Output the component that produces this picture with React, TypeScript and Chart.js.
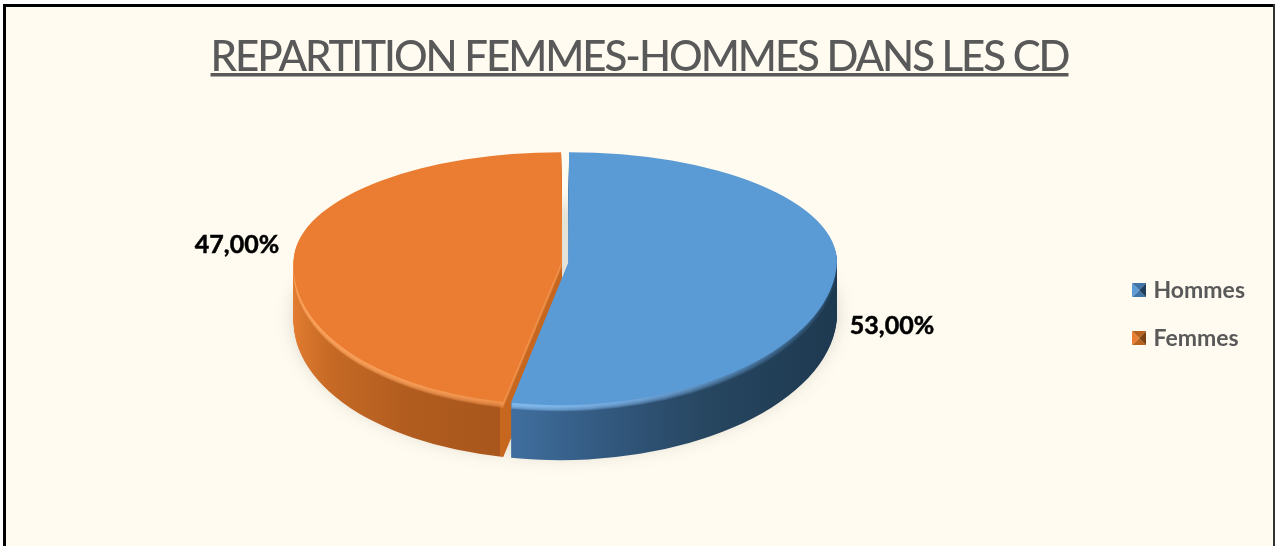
import React, { useEffect, useRef } from "react";
import { Chart, registerables } from "chart.js";

Chart.register(...registerables);

const categories = ["Hommes", "Femmes"];
const shares = [53, 47];
const topColors = ["#5B9BD5", "#EB7D32"];
const chartTitle = "REPARTITION FEMMES-HOMMES DANS LES CD";
const TEXT_GREY = "#595959";
const CREAM = "#FFFBF0";
const TITLE_FONT = { family: "Lato", size: 42, weight: "500" as const };
const TITLE_SPACING = "-2.05px";

const PIE_CX = 565;
const DEPTH = 55;
const APEX_Y = 262;
const RY_UP = 110;
const RY_DOWN = 143;
const SHEAR = -0.055;

const wallStops = [
  [[0, "#3F6E9E"], [0.3, "#32587E"], [0.6, "#274660"], [1, "#1D3950"]],
  [[0, "#E57E32"], [0.2, "#C66A25"], [0.55, "#B25D1F"], [1, "#A8561C"]],
];
const rimStops = [
  [[0, "rgba(135,190,240,0.4)"], [0.4, "rgba(125,180,235,0.25)"], [1, "rgba(90,150,210,0.03)"]],
  [[0, "rgba(252,165,95,0.45)"], [0.6, "rgba(250,160,90,0.35)"], [1, "rgba(248,155,85,0.3)"]],
];
const faceColor = "#C7661F";
const labelOffsets = [
  { dx: 327, dy: 64 },
  { dx: -328, dy: -17 },
];

function drawnRadius(arc: any) {
  return arc.outerRadius + (arc.options.offset || 0) / 4;
}

function warped(ctx: any, arc: any, dy: number, fill: any) {
  const clone = Object.create(arc);
  clone.options = { ...arc.options, backgroundColor: fill, borderWidth: 0 };
  const split = APEX_Y + dy;
  const r = drawnRadius(arc);
  [
    { y0: -100, y1: split, k: RY_UP / r, s: 0 },
    { y0: split, y1: 700, k: RY_DOWN / r, s: SHEAR },
  ].forEach(({ y0, y1, k, s }) => {
    ctx.save();
    ctx.beginPath();
    ctx.rect(0, y0, 1275, y1 - y0);
    ctx.clip();
    ctx.translate(PIE_CX - arc.x, split);
    ctx.transform(1, 0, s, 1, 0, 0);
    ctx.scale(1, k);
    ctx.translate(0, -arc.y);
    clone.draw(ctx);
    ctx.restore();
  });
}

function gradient(ctx: any, x0: number, x1: number, stops: any[]) {
  const g = ctx.createLinearGradient(x0, 0, x1, 0);
  stops.forEach(([p, c]) => g.addColorStop(p, c));
  return g;
}

function titleLetterSpacing(chart: any) {
  const box = chart.titleBlock;
  if (!box || box.__spaced) return;
  const original = box.draw;
  box.__spaced = true;
  box.draw = function (...args: any[]) {
    const c = chart.ctx;
    c.save();
    c.letterSpacing = TITLE_SPACING;
    original.apply(box, args);
    c.restore();
  };
}

const piePlugin = {
  id: "pie3d",
  beforeDraw(chart: any) {
    titleLetterSpacing(chart);
    const { ctx, width, height } = chart;
    ctx.save();
    ctx.fillStyle = "#FFFFFF";
    ctx.fillRect(0, 0, width, height);
    ctx.fillStyle = "#000000";
    ctx.fillRect(3, 4, width, height);
    ctx.fillStyle = "#333333";
    ctx.fillRect(width - 2, 4, 2, height);
    ctx.fillStyle = CREAM;
    ctx.fillRect(6, 7, width - 8, height);
    ctx.restore();
  },
  beforeDatasetsDraw(chart: any) {
    const { ctx } = chart;
    const arcs = chart.getDatasetMeta(0).data;
    ctx.save();
    ctx.filter = "blur(9px)";
    arcs.forEach((a: any) => warped(ctx, a, DEPTH - 4, "rgba(60,60,50,0.2)"));
    ctx.restore();

    [1, 0].forEach((i) => {
      const a = arcs[i];
      const r = drawnRadius(a);
      const shift = (Math.cos((a.startAngle + a.endAngle) / 2) * (a.options.offset || 0)) / 4;
      const left = a.x + shift - r;
      const right = a.x + shift + r;
      if (i === 1) {
        const corner = a.x + shift + r * Math.cos(a.startAngle);
        const t = (corner - left) / (right - left);
        const scaled = wallStops[1].map(([p, c]: any) => [p * t, c]);
        const wall = gradient(ctx, left, right, [...scaled, [t, faceColor], [1, faceColor]]);
        for (let d = DEPTH; d > 0; d--) warped(ctx, a, d, wall);
        const rim = gradient(ctx, left, corner, rimStops[1]);
        for (let d = 6; d > 0; d--) warped(ctx, a, d, rim);
      } else {
        const corner = a.x + shift + r * Math.cos(a.endAngle);
        const wall = gradient(ctx, corner, right, wallStops[0]);
        for (let d = DEPTH; d > 0; d--) warped(ctx, a, d, wall);
        const rim = gradient(ctx, corner, right, rimStops[0]);
        for (let d = 6; d > 0; d--) warped(ctx, a, d, rim);
      }
      warped(ctx, a, 0, a.options.backgroundColor);
    });
    return false;
  },
  afterDraw(chart: any) {
    const { ctx } = chart;
    const arcs = chart.getDatasetMeta(0).data;
    ctx.save();
    ctx.font = "700 25px Lato";
    ctx.fillStyle = "#000000";
    ctx.strokeStyle = "#000000";
    ctx.lineWidth = 0.5;
    ctx.textAlign = "center";
    ctx.textBaseline = "middle";
    arcs.forEach((_: any, i: number) => {
      const text = shares[i].toFixed(2).replace(".", ",") + "%";
      ctx.fillText(text, PIE_CX + labelOffsets[i].dx, APEX_Y + labelOffsets[i].dy);
      ctx.strokeText(text, PIE_CX + labelOffsets[i].dx, APEX_Y + labelOffsets[i].dy);
    });
    ctx.font = `${TITLE_FONT.weight} ${TITLE_FONT.size}px ${TITLE_FONT.family}`;
    ctx.letterSpacing = TITLE_SPACING;
    const w = ctx.measureText(chartTitle).width;
    const box = chart.titleBlock;
    const cx = (box.left + box.right) / 2;
    ctx.fillStyle = TEXT_GREY;
    ctx.fillRect(cx - w / 2, 73, w, 3.5);
    ctx.restore();
  },
};

function legendIcon(light: string, mid: string, dark: string) {
  const c = document.createElement("canvas");
  c.width = 14;
  c.height = 14;
  const g = c.getContext("2d")!;
  const tri = (color: string, pts: number[]) => {
    g.fillStyle = color;
    g.beginPath();
    g.moveTo(pts[0], pts[1]);
    g.lineTo(pts[2], pts[3]);
    g.lineTo(pts[4], pts[5]);
    g.closePath();
    g.fill();
  };
  tri(mid, [0, 0, 14, 0, 7, 7]);
  tri(mid, [0, 14, 14, 14, 7, 7]);
  tri(light, [0, 0, 0, 14, 7, 7]);
  tri(dark, [14, 0, 14, 14, 7, 7]);
  return c;
}

export default function App() {
  const ref = useRef<HTMLCanvasElement>(null);
  useEffect(() => {
    document.body.style.margin = "0";
    const icons = [
      legendIcon("#5B9BD5", "#3F74A8", "#1F3E5C"),
      legendIcon("#EB7D32", "#B9621F", "#7E4212"),
    ];
    const chart = new Chart(ref.current!, {
      type: "pie",
      data: {
        labels: categories,
        datasets: [
          {
            data: shares,
            backgroundColor: topColors,
            borderWidth: 0,
            offset: 14,
          },
        ],
      },
      options: {
        responsive: false,
        animation: false,
        radius: 265,
        layout: { padding: { left: 24, top: 32, right: 20, bottom: 0 } },
        plugins: {
          tooltip: { enabled: false },
          title: {
            display: true,
            text: chartTitle,
            color: TEXT_GREY,
            font: TITLE_FONT,
            padding: { top: 0, bottom: 0 },
          },
          legend: {
            position: "right",
            fullSize: false,
            labels: {
              color: TEXT_GREY,
              font: { family: "Lato", size: 23, weight: "700" },
              usePointStyle: true,
              pointStyleWidth: 6,
              padding: 25,
              generateLabels: () =>
                categories.map((text, i) => ({
                  text,
                  pointStyle: icons[i],
                  fontColor: TEXT_GREY,
                  lineWidth: 0,
                  index: i,
                })),
            },
          },
        },
      } as any,
      plugins: [piePlugin as any],
    });
    return () => chart.destroy();
  }, []);
  return (
    <canvas
      ref={ref}
      width={1275}
      height={546}
      style={{ display: "block", width: 1275, height: 546, filter: "blur(0.5px)" }}
    />
  );
}
